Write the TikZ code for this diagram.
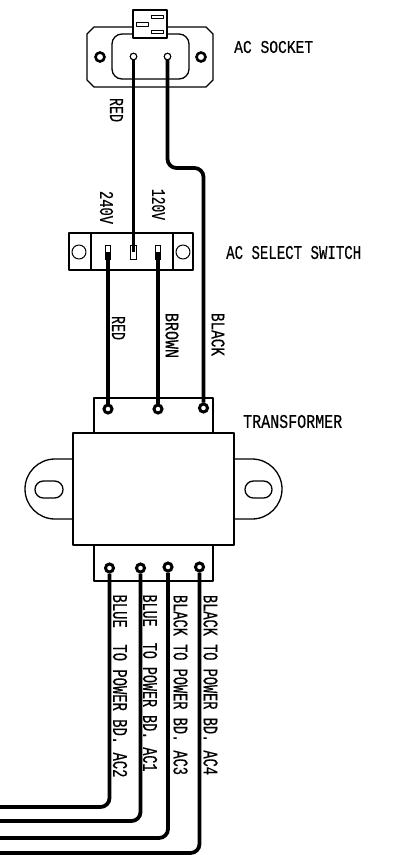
\documentclass[tikz,border=0pt]{standalone}
\usepackage{graphicx}
\usepackage{fontspec}
\setmonofont[FakeBold=0.6]{Liberation Mono}
\newcommand{\lab}[3]{\resizebox{#1pt}{#2pt}{\ttfamily #3}}
\tikzset{
  outline/.style={draw=black,line width=1.3pt,line join=round},
  wire/.style={draw=black,line width=3.8pt,rounded corners=9pt},
  term/.style={circle,draw=black,fill=white,line width=3pt,minimum size=8pt,inner sep=0pt},
  slotpin/.style={draw=black,fill=white,line width=1pt,minimum width=5.5pt,minimum height=14pt,inner sep=0pt},
  txt/.style={inner sep=0pt,text=black},
  vtxt/.style={inner sep=0pt,text=black,rotate=-90}
}
\begin{document}
\begin{tikzpicture}[x=1pt,y=-1pt]
\useasboundingbox (0,0) rectangle (392,855);
% AC socket
\draw[outline] (94,27)--(206,27)--(213,34)--(213,80)--(206,87)--(94,87)--(87,80)--(87,34)--cycle;
\draw[outline,rounded corners=10pt] (112,34) rectangle (189,79);
\node[outline,fill=white,minimum width=34pt,minimum height=28pt,inner sep=0pt] (plug) at (150,24) {};
\draw[outline,line width=0.9pt] (151,15.5) rectangle (163,18.5) (151,30) rectangle (163,33.5) (136,22.5) rectangle (148,26.5);
\node[term,line width=2.6pt,minimum size=9pt] (sh1) at (100,57) {};
\node[term,line width=2.6pt,minimum size=9pt] (sh2) at (201,57) {};
\node[circle,draw=black,fill=white,line width=1pt,minimum size=6.5pt,inner sep=0pt] (s1) at (133.5,56.5) {};
\node[circle,draw=black,fill=white,line width=1pt,minimum size=6.5pt,inner sep=0pt] (s2) at (167.5,56.5) {};
% switch
\draw[outline] (69,233) rectangle (193,270);
\draw[outline] (91,233)--(91,270) (173,233)--(173,270);
\draw[outline,line width=1pt] (79,252) circle (7);
\draw[outline,line width=1pt] (183,252) circle (7);
\node[slotpin] (p1) at (108,252) {};
\node[slotpin] (p2) at (133.5,252) {};
\node[slotpin] (p3) at (158,252) {};
% transformer
\draw[outline] (94,433)--(94,398)--(213,398)--(213,433);
\draw[outline] (94,545)--(94,581)--(213,581)--(213,545);
\draw[outline,fill=white] (73,433) rectangle (234,545);
\draw[outline] (73,459)--(55,459) arc[start angle=-90,end angle=-270,radius=30] --(73,519);
\draw[outline] (234,459)--(252,459) arc[start angle=-90,end angle=90,radius=30] --(234,519);
\draw[outline,rounded corners=8.4pt] (35,481) rectangle (63,498);
\draw[outline,rounded corners=8.4pt] (245,481) rectangle (272,498);
\node[term] (t1) at (108,409) {};
\node[term] (t2) at (158,409) {};
\node[term] (t3) at (203.5,408) {};
\node[term] (b1) at (109.5,568) {};
\node[term] (b2) at (140.5,568) {};
\node[term] (b3) at (168,567) {};
\node[term] (b4) at (199.5,567) {};
\coordinate (e1) at (-3,807);
\coordinate (e2) at (-3,821);
\coordinate (e3) at (-3,838);
\coordinate (e4) at (-3,853);
% wires
\draw[wire] (s1.center) -- (p2.center);
\draw[wire] (s2.center) -- (167.5,168) -- (203.5,168) -- (t3.north);
\draw[wire] (p1.center) -- (t1.north);
\draw[wire] (p3.center) -- (t2.north);
\draw[wire] (b1.south) -- (109.5,807) -- (e1);
\draw[wire] (b2.south) -- (140.5,821) -- (e2);
\draw[wire] (b3.south) -- (168,838) -- (e3);
\draw[wire] (b4.south) -- (199.5,853) -- (e4);
\node[circle,draw=black,fill=white,line width=1pt,minimum size=6.5pt,inner sep=0pt] at (s1) {};
\node[circle,draw=black,fill=white,line width=1pt,minimum size=6.5pt,inner sep=0pt] at (s2) {};
% labels
\node[txt,anchor=west] (l1) at (234,47) {\lab{79}{12}{AC SOCKET}};
\node[txt,anchor=west] (l2) at (226,252.5) {\lab{135}{13}{AC SELECT SWITCH}};
\node[txt,anchor=west] (l3) at (243,421.5) {\lab{99}{13}{TRANSFORMER}};
\node[vtxt] (l4) at (116.5,110) {\lab{24}{13}{RED}};
\node[vtxt] (l5) at (106.5,207.5) {\lab{33}{13}{240V}};
\node[vtxt] (l6) at (158.5,204.5) {\lab{31}{13}{120V}};
\node[vtxt] (l7) at (118.5,328) {\lab{24}{13}{RED}};
\node[vtxt] (l8) at (172,335.5) {\lab{45}{13}{BROWN}};
\node[vtxt] (l9) at (218,334.5) {\lab{43}{13}{BLACK}};
\node[vtxt] (l10) at (120,686) {\lab{183}{14}{BLUE\ \ TO POWER BD. AC2}};
\node[vtxt] (l11) at (150,683) {\lab{177}{14}{BLUE\ \ TO POWER BD. AC1}};
\node[vtxt] (l12) at (180.5,685) {\lab{180}{14}{BLACK TO POWER BD. AC3}};
\node[vtxt] (l13) at (210.5,685) {\lab{180}{14}{BLACK TO POWER BD. AC4}};
\end{tikzpicture}
\end{document}
